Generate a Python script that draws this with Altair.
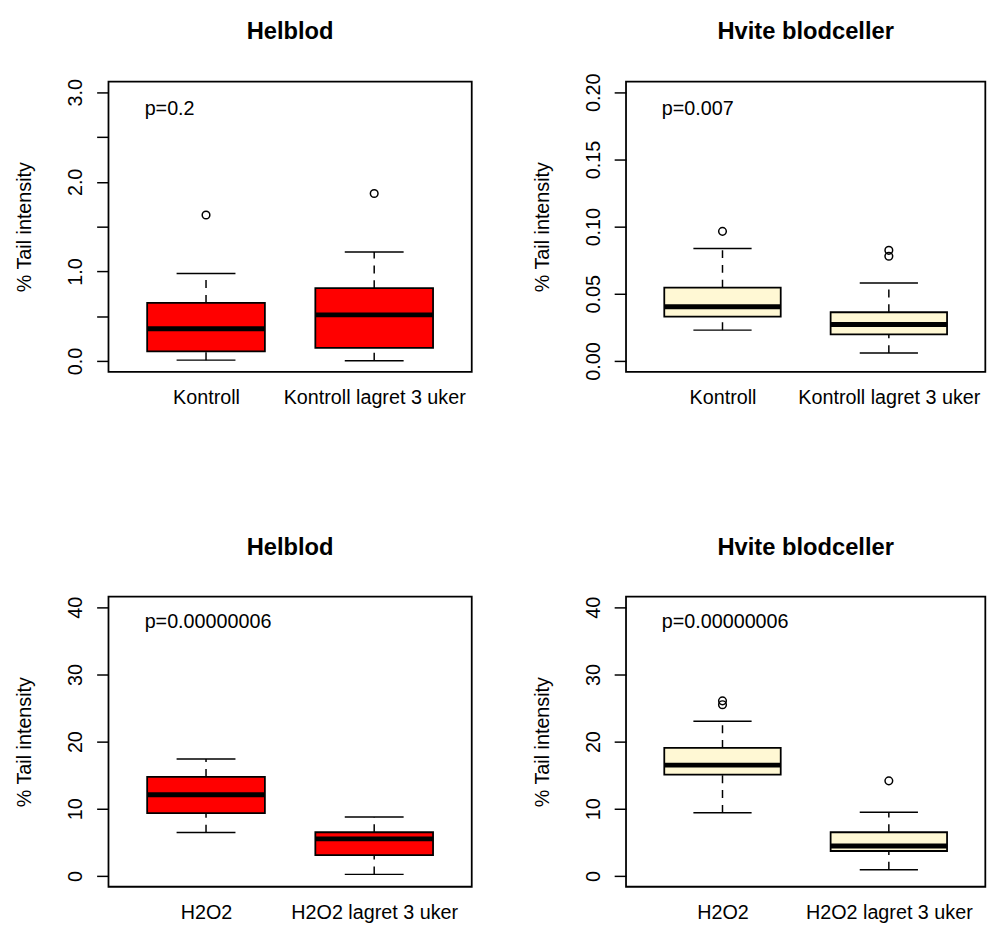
import altair as alt
import pandas as pd

FONT = "Liberation Sans"

# ---- data ----
panel_titles = ["Helblod", "Hvite blodceller", "Helblod", "Hvite blodceller"]
p_labels = ["p=0.2", "p=0.007", "p=0.00000006", "p=0.00000006"]
p_label_x = [0.635, 0.635, 0.635, 0.635]
p_label_y = [2.75, 0.1834, 36.9, 36.9]
group_names = [
    ["Kontroll", "Kontroll lagret 3 uker"],
    ["Kontroll", "Kontroll lagret 3 uker"],
    ["H2O2", "H2O2 lagret 3 uker"],
    ["H2O2", "H2O2 lagret 3 uker"],
]
box_fill = ["#FF0000", "#FFF8D4", "#FF0000", "#FFF8D4"]

whisker_low = [[0.010, 0.003], [0.0230, 0.0059], [6.47, 0.24], [9.41, 0.93]]
q1 = [[0.107, 0.147], [0.0331, 0.0199], [9.35, 3.09], [15.1, 3.72]]
median = [[0.360, 0.515], [0.0404, 0.0272], [12.1, 5.53], [16.5, 4.46]]
q3 = [[0.650, 0.813], [0.0546, 0.0363], [14.75, 6.51], [19.06, 6.51]]
whisker_high = [[0.978, 1.217], [0.0838, 0.0581], [17.4, 8.77], [23.03, 9.5]]
outliers = [
    [[1.63], [1.87]],
    [[0.0965], [0.0824, 0.0780]],
    [[], []],
    [[26.07, 25.5], [14.16]],
]

y_domain = [[-0.12, 3.12], [-0.008, 0.208], [-1.6, 41.6], [-1.6, 41.6]]
y_ticks = [
    [0, 0.5, 1, 1.5, 2, 2.5, 3],
    [0, 0.05, 0.1, 0.15, 0.2],
    [0, 10, 20, 30, 40],
    [0, 10, 20, 30, 40],
]
y_label_expr = [
    "datum.value % 1 === 0 ? format(datum.value, '.1f') : ''",
    "format(datum.value, '.2f')",
    "format(datum.value, 'd')",
    "format(datum.value, 'd')",
]
title_offset = [16.1, 10.5, 18.3, 18.3]

PLOT_W = [368, 364, 368, 364]
PLOT_H = 294
BOX_HALF = 0.35
CAP_HALF = 0.175


def make_panel(i):
    stats = pd.DataFrame({
        "pos": [1, 2],
        "name": group_names[i],
        "lo": whisker_low[i],
        "q1": q1[i],
        "med": median[i],
        "q3": q3[i],
        "hi": whisker_high[i],
    })
    out_pos, out_val = [], []
    for g, vals in enumerate(outliers[i]):
        for v in vals:
            out_pos.append(g + 1)
            out_val.append(v)
    out_df = pd.DataFrame({"pos": out_pos, "value": out_val})
    txt_df = pd.DataFrame({"x": [p_label_x[i]], "y": [p_label_y[i]], "label": [p_labels[i]]})

    xs = alt.Scale(domain=[0.42, 2.58], nice=False, zero=False)
    ys = alt.Scale(domain=y_domain[i], nice=False, zero=False)

    names_js = "[" + ",".join("'" + n + "'" for n in group_names[i]) + "]"
    xaxis = alt.Axis(
        values=[1, 2], labelExpr=names_js + "[datum.value - 1]",
        ticks=False, tickSize=0, domain=False, grid=False,
        labelPadding=32.5, labelBaseline="alphabetic", labelAlign="center",
        labelAngle=0, labelFontSize=20, labelFont=FONT, labelColor="black",
        labelFlush=False, labelOverlap=False, labelBound=False, labelLimit=500,
        title=None,
    )
    yaxis = alt.Axis(
        values=y_ticks[i], labelExpr=y_label_expr[i],
        ticks=True, tickSize=12, tickColor="black", tickWidth=1.5,
        domain=False, grid=False,
        labelAngle=270, labelAlign="center", labelBaseline="alphabetic",
        labelPadding=15, labelFontSize=20, labelFont=FONT, labelColor="black",
        labelFlush=False, labelOverlap=False, labelBound=False, labelLimit=500,
        title="% Tail intensity", titleFont=FONT, titleFontSize=20,
        titleFontWeight="normal", titleColor="black", titleAngle=270,
        titleAlign="center", titleBaseline="alphabetic",
        titleX=-79, titleY=PLOT_H / 2, titleLimit=500,
    )

    def X(field):
        return alt.X(field, scale=xs, axis=xaxis)

    def Y(field):
        return alt.Y(field, scale=ys, axis=yaxis)

    base = alt.Chart(stats).transform_calculate(
        xl=f"datum.pos - {BOX_HALF}", xr=f"datum.pos + {BOX_HALF}",
        cl=f"datum.pos - {CAP_HALF}", cr=f"datum.pos + {CAP_HALF}",
    )

    whisk_up = base.mark_rule(color="black", strokeWidth=1.5, strokeDash=[8, 7]).encode(
        x=X("pos:Q"), y=Y("q3:Q"), y2="hi:Q",
    )
    whisk_dn = base.mark_rule(color="black", strokeWidth=1.5, strokeDash=[8, 7]).encode(
        x=X("pos:Q"), y=Y("lo:Q"), y2="q1:Q",
    )
    cap_hi = base.mark_rule(color="black", strokeWidth=1.5).encode(
        x=X("cl:Q"), x2="cr:Q", y=Y("hi:Q"),
    )
    cap_lo = base.mark_rule(color="black", strokeWidth=1.5).encode(
        x=X("cl:Q"), x2="cr:Q", y=Y("lo:Q"),
    )
    box = base.mark_rect(fill=box_fill[i], stroke="black", strokeWidth=1.8).encode(
        x=X("xl:Q"), x2="xr:Q", y=Y("q1:Q"), y2="q3:Q",
    )
    med = base.mark_rule(color="black", strokeWidth=5).encode(
        x=X("xl:Q"), x2="xr:Q", y=Y("med:Q"),
    )
    layers = [whisk_up, whisk_dn, cap_hi, cap_lo, box, med]
    if len(out_df):
        pts = alt.Chart(out_df).mark_point(
            shape="circle", filled=False, stroke="black", strokeWidth=1.5, size=60, opacity=1
        ).encode(x=X("pos:Q"), y=Y("value:Q"))
        layers.append(pts)
    txt = alt.Chart(txt_df).mark_text(
        align="left", baseline="alphabetic", fontSize=20, font=FONT, color="black"
    ).encode(x=X("x:Q"), y=Y("y:Q"), text="label:N")
    layers.append(txt)

    return alt.layer(*layers).properties(
        width=PLOT_W[i], height=PLOT_H,
        title=alt.TitleParams(
            panel_titles[i], fontSize=24, fontWeight="bold", font=FONT,
            anchor="middle", frame="group", baseline="alphabetic",
            offset=title_offset[i], color="black",
        ),
    )


chart = alt.concat(
    *[make_panel(i) for i in range(4)],
    columns=2,
    spacing={"row": 227.7, "column": 156.3},
).properties(
    bounds="flush",
    padding={"left": 5.8, "top": 4.5, "right": 0, "bottom": 0},
    background="white",
).configure_view(
    stroke="black", strokeWidth=1.8
)

chart.save("out.html", embed_options={"renderer": "svg", "actions": False})
